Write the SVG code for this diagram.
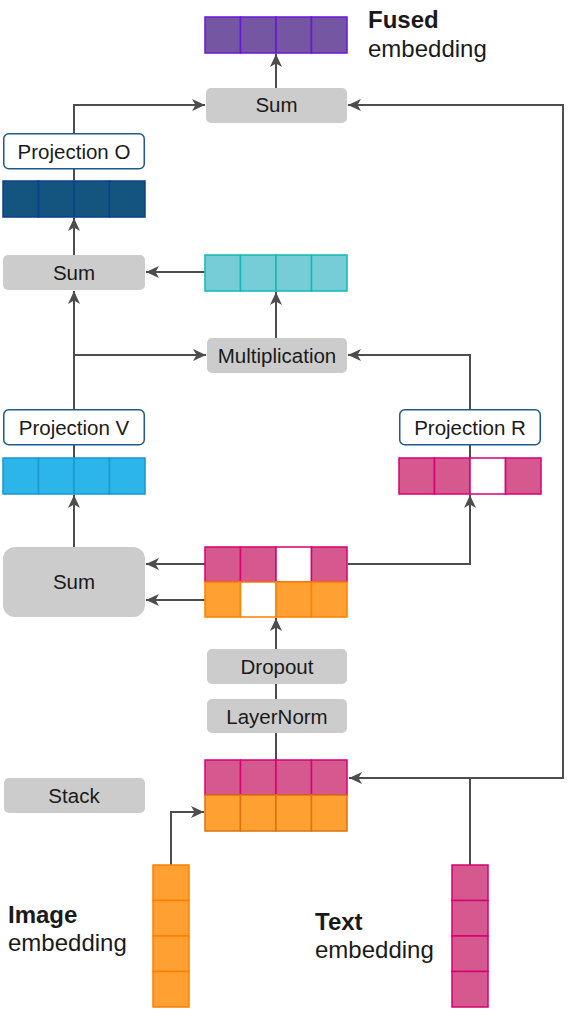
<svg xmlns="http://www.w3.org/2000/svg" width="580" height="1012" viewBox="0 0 580 1012">
<defs>
<marker id="ah" markerUnits="userSpaceOnUse" markerWidth="14" markerHeight="12" viewBox="0 0 14 12" refX="13" refY="6" orient="auto">
<path d="M0,0 L13,6 L0,12 L3.5,6 Z" fill="#4d4d4d"/>
</marker>
</defs>
<style>
text{font-family:"Liberation Sans",Arial,Helvetica,sans-serif;fill:#1a1a1a}
.lbl{font-size:20.5px;text-anchor:middle}
.big{font-size:24px}
.bold{font-weight:bold}
.op{fill:#cccccc}
.proj{fill:#ffffff;stroke:#1f5a8c;stroke-width:1.5}
.c{stroke:#4d4d4d;stroke-width:2;fill:none}
.pk{fill:#d5598f;stroke:#d80073;stroke-width:1.5}
.pkw{fill:#ffffff;stroke:#d80073;stroke-width:1.5}
.or{fill:#ffa033;stroke:#ff8000;stroke-width:1.5}
.orw{fill:#ffffff;stroke:#ff8000;stroke-width:1.5}
.ors{fill:#ffa033;stroke:#d9740f;stroke-width:1.5}
.pu{fill:#7556a3;stroke:#6a16d8;stroke-width:1.5}
.db{fill:#14557f;stroke:#0b3f8c;stroke-width:1.5}
.te{fill:#76cdd8;stroke:#12b8bb;stroke-width:1.5}
.bl{fill:#2bb5e8;stroke:#1a98cf;stroke-width:1.5}
</style>
<g id="connectors">
<path class="c" d="M276 88 V54" marker-end="url(#ah)"/>
<path class="c" d="M74 133 V105 H205" marker-end="url(#ah)"/>
<path class="c" d="M470 865 V778 H563 V105 H348" marker-end="url(#ah)"/>
<path class="c" d="M470 778 H349" marker-end="url(#ah)"/>
<path class="c" d="M74 169 V180"/>
<path class="c" d="M74 255 V218" marker-end="url(#ah)"/>
<path class="c" d="M205 272 H146" marker-end="url(#ah)"/>
<path class="c" d="M276 338 V292" marker-end="url(#ah)"/>
<path class="c" d="M74 409 V291" marker-end="url(#ah)"/>
<path class="c" d="M74 355 H206" marker-end="url(#ah)"/>
<path class="c" d="M470 409 V355 H348" marker-end="url(#ah)"/>
<path class="c" d="M74 445 V458"/>
<path class="c" d="M470 445 V458"/>
<path class="c" d="M74 547 V495" marker-end="url(#ah)"/>
<path class="c" d="M205 564 H146" marker-end="url(#ah)"/>
<path class="c" d="M205 600 H146" marker-end="url(#ah)"/>
<path class="c" d="M348 564 H470 V495" marker-end="url(#ah)"/>
<path class="c" d="M276 649 V618" marker-end="url(#ah)"/>
<path class="c" d="M276 699 V684"/>
<path class="c" d="M276 760 V733"/>
<path class="c" d="M171 865 V812 H204" marker-end="url(#ah)"/>
</g>
<g id="fused">
<rect class="pu" x="205" y="17" width="35.5" height="36"/>
<rect class="pu" x="240.5" y="17" width="35.5" height="36"/>
<rect class="pu" x="276" y="17" width="35.5" height="36"/>
<rect class="pu" x="311.5" y="17" width="35.5" height="36"/>
<text class="big bold" x="368" y="28">Fused</text>
<text class="big" x="368" y="57">embedding</text>
</g>
<g id="sum-top">
<rect class="op" x="206" y="88" width="141" height="35" rx="5"/>
<text class="lbl" x="276.5" y="112">Sum</text>
</g>
<g id="projection-o">
<rect class="proj" x="3.75" y="133.75" width="140.5" height="35" rx="5"/>
<text class="lbl" x="74" y="158.5">Projection O</text>
</g>
<g id="o-vector">
<rect class="db" x="3" y="181" width="35.5" height="36"/>
<rect class="db" x="38.5" y="181" width="35.5" height="36"/>
<rect class="db" x="74" y="181" width="35.5" height="36"/>
<rect class="db" x="109.5" y="181" width="35.5" height="36"/>
</g>
<g id="sum-mid">
<rect class="op" x="3" y="255" width="142" height="35" rx="5"/>
<text class="lbl" x="74" y="279.5">Sum</text>
</g>
<g id="teal-vector">
<rect class="te" x="205" y="255" width="35.5" height="36"/>
<rect class="te" x="240.5" y="255" width="35.5" height="36"/>
<rect class="te" x="276" y="255" width="35.5" height="36"/>
<rect class="te" x="311.5" y="255" width="35.5" height="36"/>
</g>
<g id="multiplication">
<rect class="op" x="207" y="338" width="140" height="35" rx="5"/>
<text class="lbl" x="277" y="362.5">Multiplication</text>
</g>
<g id="projection-v">
<rect class="proj" x="3.75" y="409.75" width="140.5" height="35" rx="5"/>
<text class="lbl" x="74" y="434.5">Projection V</text>
</g>
<g id="v-vector">
<rect class="bl" x="3" y="458" width="35.5" height="36"/>
<rect class="bl" x="38.5" y="458" width="35.5" height="36"/>
<rect class="bl" x="74" y="458" width="35.5" height="36"/>
<rect class="bl" x="109.5" y="458" width="35.5" height="36"/>
</g>
<g id="projection-r">
<rect class="proj" x="399.75" y="409.75" width="140.5" height="35" rx="5"/>
<text class="lbl" x="470" y="434.5">Projection R</text>
</g>
<g id="r-vector">
<rect class="pk" x="399" y="458" width="35.5" height="36"/>
<rect class="pk" x="434.5" y="458" width="35.5" height="36"/>
<rect class="pkw" x="470" y="458" width="35.5" height="36"/>
<rect class="pk" x="505.5" y="458" width="35.5" height="36"/>
</g>
<g id="sum-big">
<rect class="op" x="3" y="547" width="142" height="70" rx="12"/>
<text class="lbl" x="74" y="589">Sum</text>
</g>
<g id="masked-stack">
<rect class="pk" x="205" y="547" width="35.5" height="35"/>
<rect class="pk" x="240.5" y="547" width="35.5" height="35"/>
<rect class="pkw" x="276" y="547" width="35.5" height="35"/>
<rect class="pk" x="311.5" y="547" width="35.5" height="35"/>
<rect class="or" x="205" y="582" width="35.5" height="35"/>
<rect class="orw" x="240.5" y="582" width="35.5" height="35"/>
<rect class="or" x="276" y="582" width="35.5" height="35"/>
<rect class="or" x="311.5" y="582" width="35.5" height="35"/>
</g>
<g id="dropout">
<rect class="op" x="207" y="649" width="140" height="35" rx="5"/>
<text class="lbl" x="277" y="673.5">Dropout</text>
</g>
<g id="layernorm">
<rect class="op" x="207" y="699" width="140" height="34" rx="5"/>
<text class="lbl" x="277" y="723.5">LayerNorm</text>
</g>
<g id="stack-label">
<rect class="op" x="4" y="778" width="141" height="35" rx="5"/>
<text class="lbl" x="74" y="802.5">Stack</text>
</g>
<g id="stack">
<rect class="pk" x="205" y="760" width="35.5" height="35"/>
<rect class="pk" x="240.5" y="760" width="35.5" height="35"/>
<rect class="pk" x="276" y="760" width="35.5" height="35"/>
<rect class="pk" x="311.5" y="760" width="35.5" height="35"/>
<rect class="ors" x="205" y="795" width="35.5" height="36"/>
<rect class="ors" x="240.5" y="795" width="35.5" height="36"/>
<rect class="ors" x="276" y="795" width="35.5" height="36"/>
<rect class="ors" x="311.5" y="795" width="35.5" height="36"/>
</g>
<g id="image-embedding">
<rect class="or" x="153" y="865" width="36" height="35.5"/>
<rect class="or" x="153" y="900.5" width="36" height="35.5"/>
<rect class="or" x="153" y="936" width="36" height="35.5"/>
<rect class="or" x="153" y="971.5" width="36" height="35.5"/>
<text class="big bold" x="8" y="923">Image</text>
<text class="big" x="8" y="951">embedding</text>
</g>
<g id="text-embedding">
<rect class="pk" x="452" y="865" width="36" height="35.5"/>
<rect class="pk" x="452" y="900.5" width="36" height="35.5"/>
<rect class="pk" x="452" y="936" width="36" height="35.5"/>
<rect class="pk" x="452" y="971.5" width="36" height="35.5"/>
<text class="big bold" x="315" y="930">Text</text>
<text class="big" x="315" y="958">embedding</text>
</g>
</svg>
